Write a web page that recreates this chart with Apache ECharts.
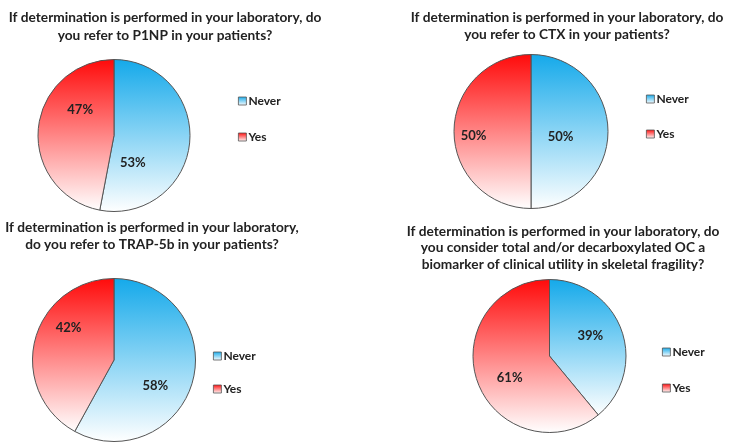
<!DOCTYPE html>
<html>
<head>
<meta charset="utf-8">
<script src="https://cdn.jsdelivr.net/npm/echarts@6/dist/echarts.min.js"></script>
<style>html,body{margin:0;padding:0;background:#fff}#c{width:730px;height:446px}</style>
</head>
<body>
<div id="c"></div>
<script>
var categories = ['Never', 'Yes'];
var titles = [
  'If determination is performed in your laboratory, do\nyou refer to P1NP in your patients?',
  'If determination is performed in your laboratory, do\nyou refer to CTX in your patients?',
  'If determination is performed in your laboratory,\ndo you refer to TRAP-5b in your patients?',
  'If determination is performed in your laboratory, do\nyou consider total and/or decarboxylated OC a\nbiomarker of clinical utility in skeletal fragility?'
];
var p1npValues = [53, 47];
var ctxValues = [50, 50];
var trapValues = [58, 42];
var ocValues = [39, 61];

var allValues = [p1npValues, ctxValues, trapValues, ocValues];

// layout (positions / sizes / styles)
var layout = [
  {title: [165, 9, 18], center: [114, 135.5], r: 76, legend: [233, 90, 24], offsets: [[-22, 23], [7, -22]]},
  {title: [567, 9, 17], center: [531, 131.5], r: 77, legend: [641, 88, 23], offsets: [[-12, 5], [-16, 4]]},
  {title: [152, 219, 17], center: [114, 360], r: 81.5, legend: [208, 345, 21], offsets: [[-1, 15], [-3, -21]]},
  {title: [563, 223, 16.5], center: [549.5, 356], r: 76.5, legend: [657, 341, 24], offsets: [[2, -6], [-1, 8]]}
];

function grad(c) {
  return new echarts.graphic.LinearGradient(0, 0, 0, 1, [
    {offset: 0, color: c}, {offset: 1, color: '#ffffff'}
  ]);
}
var topColors = ['#14A9EA', '#FF0A0A'];
var FONT = 'Lato';

var option = {
  animation: false,
  backgroundColor: '#ffffff',
  title: layout.map(function (l, i) {
    return {
      text: titles[i], left: l.title[0], top: l.title[1], textAlign: 'center', padding: 0,
      textStyle: {fontFamily: FONT, fontWeight: 'bold', fontSize: 13.7, color: '#222', lineHeight: l.title[2]}
    };
  }),
  legend: layout.map(function (l, i) {
    return {
      data: categories, orient: 'vertical', left: l.legend[0], top: l.legend[1], itemGap: l.legend[2],
      icon: 'rect', itemWidth: 8, itemHeight: 8, itemStyle: {borderColor: '#555', borderWidth: 0.8},
      textStyle: {fontFamily: FONT, fontWeight: 'bold', fontSize: 12, color: '#222', padding: [0, 0, 0, -3]},
      selectedMode: false
    };
  }),
  series: layout.map(function (l, i) {
    return {
      type: 'pie', center: l.center, radius: l.r, startAngle: 90, clockwise: true,
      avoidLabelOverlap: false, silent: true,
      itemStyle: {borderColor: '#555', borderWidth: 1},
      label: {position: 'inside', formatter: '{d}%', fontFamily: FONT, fontWeight: 'bold', fontSize: 13, color: '#222'},
      labelLine: {show: false},
      data: categories.map(function (name, k) {
        return {
          name: name, value: allValues[i][k],
          itemStyle: {color: grad(topColors[k])},
          label: {offset: l.offsets[k], formatter: allValues[i][k] + '%'}
        };
      })
    };
  })
};
var chart = echarts.init(document.getElementById('c'));
chart.setOption(option);
</script>
</body>
</html>
